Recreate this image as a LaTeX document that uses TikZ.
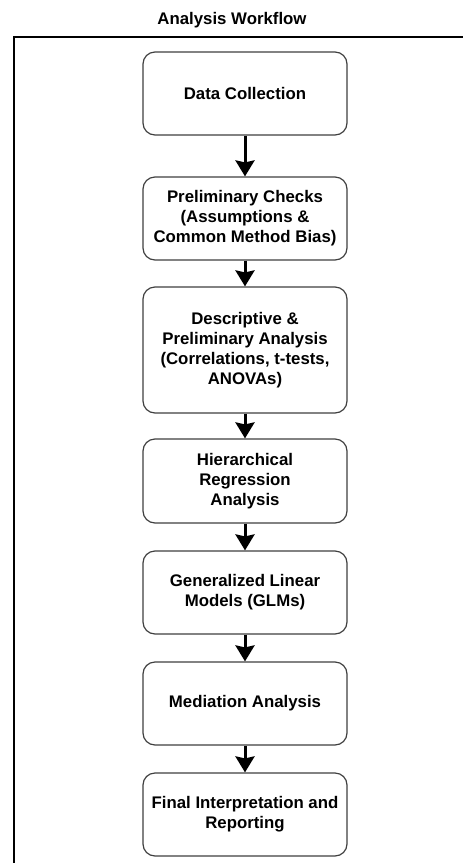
\documentclass[tikz,border=0pt]{standalone}
\usepackage{fontspec}
\setmainfont{Liberation Sans}
\usetikzlibrary{arrows.meta}
\begin{document}
\begin{tikzpicture}[x=1pt,y=-1pt,
  stepbox/.style={draw=black!75, line width=1.2pt, rounded corners=12pt, fill=white,
    minimum width=204pt, inner sep=0pt, align=center,
    font=\fontsize{16.8}{20}\selectfont\bfseries},
  flow/.style={line width=3pt, -{Stealth[length=16pt,width=19pt,inset=2pt]}}]
\useasboundingbox (0,0) rectangle (463,863);
\clip (0,0) rectangle (463,863);
\fill[white] (0,0) rectangle (463,863);
\node[font=\fontsize{16.8}{20}\selectfont\bfseries] (title) at (232,20) {Analysis Workflow};
\draw[line width=2.5pt] (14,880) -- (14,37) -- (480,37);
\node[stepbox, minimum height=83pt] (n1) at (245,93.5) {Data Collection};
\node[stepbox, minimum height=83pt] (n2) at (245,218.5) {Preliminary Checks\\(Assumptions \&\\Common Method Bias)};
\node[stepbox, minimum height=126pt] (n3) at (245,350) {Descriptive \&\\Preliminary Analysis\\(Correlations, t-tests,\\ANOVAs)};
\node[stepbox, minimum height=84pt] (n4) at (245,481) {Hierarchical\\Regression\\Analysis};
\node[stepbox, minimum height=83pt] (n5) at (245,592.5) {Generalized Linear\\Models (GLMs)};
\node[stepbox, minimum height=83pt] (n6) at (245,703.5) {Mediation Analysis};
\node[stepbox, minimum height=83pt] (n7) at (245,814.5) {Final Interpretation and\\Reporting};
\draw[flow] (n1) -- (n2);
\draw[flow] (n2) -- (n3);
\draw[flow] (n3) -- (n4);
\draw[flow] (n4) -- (n5);
\draw[flow] (n5) -- (n6);
\draw[flow] (n6) -- (n7);
\end{tikzpicture}
\end{document}
